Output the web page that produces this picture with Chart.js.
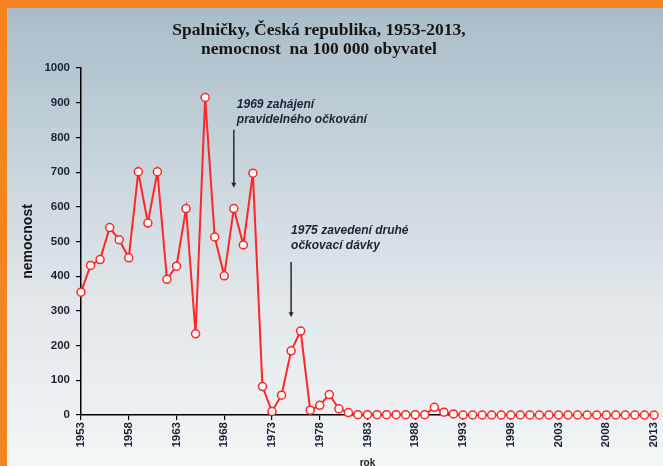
<!DOCTYPE html>
<html>
<head>
<meta charset="utf-8">
<script src="https://cdn.jsdelivr.net/npm/chart.js@4/dist/chart.umd.min.js"></script>
<style>
  html, body { margin: 0; padding: 0; }
  body { width: 663px; height: 466px; overflow: hidden; background: #f58320; position: relative; }
  #bg { position: absolute; left: 7px; top: 8px; right: 0; bottom: 0;
        background: linear-gradient(#a9bcc8 0%, #c9d5dc 35%, #e2e8eb 65%, #f3f5f6 100%); }
  #wrap { position: absolute; left: 0; top: 0; width: 663px; height: 466px; }
</style>
</head>
<body>
<div id="bg"></div>
<div id="wrap"><canvas id="chart" width="663" height="466"></canvas></div>
<script>
// years 1953 - 2013
const years = [
  1953, 1954, 1955, 1956, 1957, 1958, 1959, 1960, 1961, 1962,
  1963, 1964, 1965, 1966, 1967, 1968, 1969, 1970, 1971, 1972,
  1973, 1974, 1975, 1976, 1977, 1978, 1979, 1980, 1981, 1982,
  1983, 1984, 1985, 1986, 1987, 1988, 1989, 1990, 1991, 1992,
  1993, 1994, 1995, 1996, 1997, 1998, 1999, 2000, 2001, 2002,
  2003, 2004, 2005, 2006, 2007, 2008, 2009, 2010, 2011, 2012, 2013
];
// nemocnost na 100 000 obyvatel
const incidence = [
  354, 431, 448, 540, 505, 453, 701, 553, 701, 391,
  429, 595, 234, 915, 513, 401, 595, 490, 697, 82,
  10, 57, 185, 242, 14, 28, 59, 18, 7, 1,
  1, 1, 1, 1, 1, 1, 1, 22, 8, 3,
  0, 0, 0, 0, 0, 0, 0, 0, 0, 0,
  0, 0, 0, 0, 0, 0, 0, 0, 0, 0, 0
];
const xTicks = [1953, 1958, 1963, 1968, 1973, 1978, 1983, 1988, 1993, 1998, 2003, 2008, 2013];
const yTicks = [0, 100, 200, 300, 400, 500, 600, 700, 800, 900, 1000];

const titleLines = ['Spalničky, Česká republika, 1953-2013,', 'nemocnost  na 100 000 obyvatel'];
const notes = [
  { year: 1969, lines: ['1969 zahájení', 'pravidelného očkování'], textY: [893, 850], arrowFrom: 822, arrowTo: 655, dx: 3 },
  { year: 1975, lines: ['1975 zavedení druhé', 'očkovací dávky'], textY: [532, 488], arrowFrom: 441, arrowTo: 282, dx: 0 }
];

const tickColor = '#1b2236';
const red = '#ff2727';

const points = years.map((y, i) => ({ x: y, y: incidence[i] }));

const decorations = {
  id: 'decorations',
  afterDraw(chart) {
    const ctx = chart.ctx;
    const xs = chart.scales.x, ys = chart.scales.y;
    ctx.save();
    // title
    ctx.fillStyle = '#161616';
    ctx.textAlign = 'center';
    ctx.textBaseline = 'middle';
    ctx.font = 'bold 17.5px "Liberation Serif", "Times New Roman", serif';
    ctx.fillText(titleLines[0], 319, 30);
    ctx.fillText(titleLines[1], 319, 49);
    // annotations
    ctx.textAlign = 'left';
    ctx.font = 'italic bold 12px "Liberation Sans", Arial, sans-serif';
    notes.forEach(n => {
      const x = xs.getPixelForValue(n.year);
      ctx.fillStyle = '#1e2235';
      n.lines.forEach((t, i) => ctx.fillText(t, x + n.dx, ys.getPixelForValue(n.textY[i])));
      const y1 = ys.getPixelForValue(n.arrowFrom), y2 = ys.getPixelForValue(n.arrowTo);
      ctx.strokeStyle = '#2a2a2a';
      ctx.lineWidth = 1.5;
      ctx.beginPath();
      ctx.moveTo(x, y1);
      ctx.lineTo(x, y2 - 4);
      ctx.stroke();
      ctx.fillStyle = '#2a2a2a';
      ctx.beginPath();
      ctx.moveTo(x - 2.5, y2 - 5);
      ctx.lineTo(x + 2.5, y2 - 5);
      ctx.lineTo(x, y2);
      ctx.closePath();
      ctx.fill();
    });
    ctx.restore();
  }
};

new Chart(document.getElementById('chart'), {
  type: 'line',
  data: {
    datasets: [{
      data: points,
      borderColor: red,
      borderWidth: 2,
      pointRadius: 4,
      pointBorderWidth: 1.5,
      pointBorderColor: red,
      pointBackgroundColor: '#ffffff',
      tension: 0,
      clip: false
    }]
  },
  options: {
    responsive: false,
    animation: false,
    layout: { padding: { left: 7, top: 68, right: 9, bottom: 0 } },
    plugins: { legend: { display: false }, tooltip: { enabled: false } },
    scales: {
      x: {
        type: 'linear',
        min: 1953,
        max: 2013,
        afterFit(scale) { scale.height = 51; scale.paddingLeft = 0; scale.paddingRight = 0; },
        afterBuildTicks(scale) { scale.ticks = xTicks.map(v => ({ value: v })); },
        grid: { drawOnChartArea: false, drawTicks: true, tickLength: 5, color: '#000', lineWidth: 1.2 },
        border: { color: '#000', width: 1.5 },
        ticks: {
          minRotation: 90, maxRotation: 90, padding: 2, autoSkip: false,
          color: tickColor,
          font: { family: '"Liberation Sans", Arial, sans-serif', size: 11.5, weight: 'bold' },
          callback: v => String(v)
        },
        title: {
          display: true, text: 'rok', color: '#1b1b1b',
          padding: { top: 0, bottom: -3 },
          font: { family: '"Liberation Sans", Arial, sans-serif', size: 10, weight: 'bold' }
        }
      },
      y: {
        min: 0,
        max: 1000,
        afterFit(scale) { scale.width = 74; scale.paddingTop = 0; scale.paddingBottom = 0; },
        afterBuildTicks(scale) { scale.ticks = yTicks.map(v => ({ value: v })); },
        grid: { drawOnChartArea: false, drawTicks: true, tickLength: 5, color: '#000', lineWidth: 1.2 },
        border: { color: '#000', width: 1.5 },
        ticks: {
          padding: 6,
          color: tickColor,
          font: { family: '"Liberation Sans", Arial, sans-serif', size: 11.5, weight: 'bold' },
          callback: v => String(v)
        },
        title: {
          display: true, text: 'nemocnost', color: '#151515',
          padding: { top: 13, bottom: 0 },
          font: { family: '"Liberation Sans", Arial, sans-serif', size: 14, weight: 'bold' }
        }
      }
    }
  },
  plugins: [decorations]
});
</script>
</body>
</html>
